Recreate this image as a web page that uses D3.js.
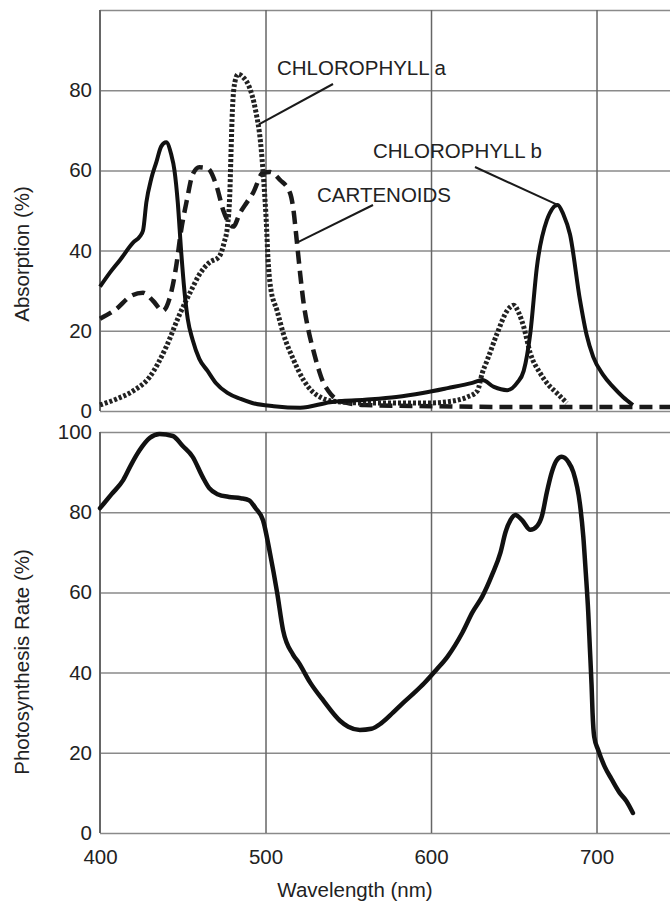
<!DOCTYPE html>
<html>
<head>
<meta charset="utf-8">
<script src="https://cdn.jsdelivr.net/npm/d3@7"></script>
<style>
  body { margin: 0; background: #fff; }
  svg text { font-family: "Liberation Sans", Arial, sans-serif; fill: #222; }
</style>
</head>
<body>
<div id="chart"></div>
<script>
// wavelengths (nm) and absorption (%)
const chlA = [[400,1.5],[410,3],[420,5],[430,8.5],[440,16],[448,24],[455,30],[460,34],[466,37],[472,38.5],[475,42],[477,46],
  [478.5,55],[479.2,65],[480,75],[481.5,82],[483.5,84],[487,83],[490,81],[494,75],[497,67],[499,57],[500.5,47],[501.5,38],
  [503,31],[507,25],[511,19],[517,12.7],[523,7.7],[528,5],[533,3.5],[540,2.5],[560,2],[580,2],[600,2],[610,2.3],[616,2.7],
  [622,3.5],[628,5],[631,9.5],[634,12.7],[640,19.4],[646,25],[650,26.4],[653,24.5],[656,21],[660,14.4],[666,9.4],[671,6.5],
  [676,4.5],[682,2]];
const chlB = [[400,31],[406,34.5],[412,37.6],[420,42],[424,43.5],[426,45],[428,52],[431,58],[434,62],[437,66],[440,67],
  [443,64],[445,60],[447,52],[449,40],[451,30],[453,23],[456,17.7],[460,13],[465,10],[470,7],[477,4.5],[485,3],[492,2],
  [505,1.2],[521,0.8],[539,2.2],[560,2.8],[579,3.5],[595,4.5],[610,5.7],[625,7],[631,7.7],[638,6],[646,5.2],[652,7],
  [656,10],[660,19.4],[664,36],[670,47.6],[676.5,51.4],[680,49],[684,44],[690,27.7],[694,19],[698,13.5],[704,9],
  [710,6],[716,3.5],[722,1.5]];
const carot = [[400,23],[410,25.5],[418,28.5],[426,29.5],[432,27.5],[438,25],[442,28],[446,36],[449,45],[452.5,52.6],
  [456,59],[460,60.8],[465,60.5],[470.5,56],[474.5,50],[480.5,46],[484.6,49.4],[488.7,52],[492.5,54.4],[498.5,59.4],
  [502.7,59.6],[508.8,57.6],[514.8,54.4],[516.6,51],[519,42],[521,34],[523,27],[526,20],[529,15],[532,10.5],[535,7],
  [538,5],[541,3.5],[547,2.2],[560,1.5],[600,1.2],[650,1],[700,1],[745,1]];
// photosynthesis rate (%)
const photo = [[400,81],[407,84.5],[414,88],[419,92],[424,95.5],[430,98.5],[436,99.5],[444,99],[450,96.5],[456,93.8],
  [462,88.8],[466,86],[471,84.5],[478,83.8],[485,83.5],[490,83],[494,81],[498.5,78],[502.7,69.8],[507,60],[510.6,50.6],
  [516.6,44.5],[520,42.5],[527,37.5],[535,33],[545,28],[550,26.5],[557,25.7],[564,26],[570,27.4],[577,30],[583,32.4],
  [590,35],[596,37.4],[603,40.6],[610,44],[619,50],[625,55],[631,59],[637,64.5],[642,70],[645,75],[648,78],[651,79.3],
  [655,78],[660,75.6],[664,76.5],[667,79],[670,85],[673,90],[676,93],[679,93.8],[683,92.5],[686,90],[690,82],[692,74],
  [693.5,65],[695,55],[696,46],[697,37],[697.6,30],[698.6,24],[701,20.7],[705,16.5],[709,13.5],[714,10],[718,8],[722,5]];

const xTicks = [400, 500, 600, 700];
const absTicks = [0, 20, 40, 60, 80];
const photoTicks = [0, 20, 40, 60, 80, 100];

const width = 670, height = 905;
const left = 100;
const svg = d3.select('#chart').append('svg')
  .attr('width', width).attr('height', height);

const x = d3.scaleLinear().domain([400, 744.4]).range([left, width]);
const yTop = d3.scaleLinear().domain([0, 100]).range([411, 10]);
const yBot = d3.scaleLinear().domain([0, 100]).range([833, 432]);

function grid(y, ticks, hTicks) {
  // horizontal grid + y labels
  const g = svg.append('g').attr('transform', `translate(${left},0)`)
    .call(d3.axisLeft(y).tickValues(hTicks).tickSize(-(width - left)).tickPadding(8));
  g.select('.domain').remove();
  g.selectAll('.tick line').attr('stroke', '#8a8a8a').attr('stroke-width', 1.5);
  g.selectAll('.tick text').style('font-size', '20.5px')
    .filter(d => !ticks.includes(d)).remove();
  // vertical grid
  const v = svg.append('g').attr('transform', `translate(0,${y.range()[0]})`)
    .call(d3.axisBottom(x).tickValues(xTicks.slice(1)).tickSize(-(y.range()[0] - y.range()[1])).tickFormat(''));
  v.select('.domain').remove();
  v.selectAll('.tick line').attr('stroke', '#666').attr('stroke-width', 1.5);
  // left axis
  svg.append('line').attr('x1', left).attr('x2', left)
    .attr('y1', y.range()[1]).attr('y2', y.range()[0])
    .attr('stroke', '#666').attr('stroke-width', 2);
}
grid(yTop, absTicks, [0, 20, 40, 60, 80, 100]);
grid(yBot, photoTicks, photoTicks);

// x labels
const xa = svg.append('g').attr('transform', `translate(0,833)`)
  .call(d3.axisBottom(x).tickValues(xTicks).tickSize(0).tickPadding(16));
xa.select('.domain').remove();
xa.selectAll('.tick text').style('font-size', '20.5px');

const lineTop = d3.line().x(d => x(d[0])).y(d => yTop(d[1])).curve(d3.curveMonotoneX);
const lineBot = d3.line().x(d => x(d[0])).y(d => yBot(d[1])).curve(d3.curveMonotoneX);

svg.append('path').datum(carot).attr('d', lineTop)
  .attr('fill', 'none').attr('stroke', '#1a1a1a').attr('stroke-width', 4.5)
  .attr('stroke-dasharray', '13,7');
svg.append('path').datum(chlA).attr('d', lineTop)
  .attr('fill', 'none').attr('stroke', '#222').attr('stroke-width', 5)
  .attr('stroke-dasharray', '3,2');
svg.append('path').datum(chlB).attr('d', lineTop)
  .attr('fill', 'none').attr('stroke', '#111').attr('stroke-width', 4)
  .attr('stroke-linejoin', 'round');
svg.append('path').datum(photo).attr('d', lineBot)
  .attr('fill', 'none').attr('stroke', '#111').attr('stroke-width', 4.5)
  .attr('stroke-linecap', 'round').attr('stroke-linejoin', 'round');

// annotations: label, anchor point on curve (data coords), leader start
const notes = [
  { text: 'CHLOROPHYLL a', tx: 277, ty: 75, from: [333, 84], to: [496, 71.5] },
  { text: 'CHLOROPHYLL b', tx: 373, ty: 158, from: [475, 167], to: [676.5, 51.4] },
  { text: 'CARTENOIDS', tx: 317, ty: 202, from: [373, 205], to: [519, 42] }
];
notes.forEach(n => {
  svg.append('text').attr('x', n.tx).attr('y', n.ty).text(n.text).style('font-size', '20.5px');
  svg.append('line').attr('x1', n.from[0]).attr('y1', n.from[1])
    .attr('x2', x(n.to[0])).attr('y2', yTop(n.to[1]))
    .attr('stroke', '#1a1a1a').attr('stroke-width', 2);
});

// axis titles
svg.append('text').attr('transform', 'translate(29,254) rotate(-90)')
  .attr('text-anchor', 'middle').text('Absorption (%)').style('font-size', '20.5px');
svg.append('text').attr('transform', 'translate(29,662) rotate(-90)')
  .attr('text-anchor', 'middle').text('Photosynthesis Rate (%)').style('font-size', '20.5px');
svg.append('text').attr('x', 355).attr('y', 897)
  .attr('text-anchor', 'middle').text('Wavelength (nm)').style('font-size', '20.5px');
</script>
</body>
</html>
